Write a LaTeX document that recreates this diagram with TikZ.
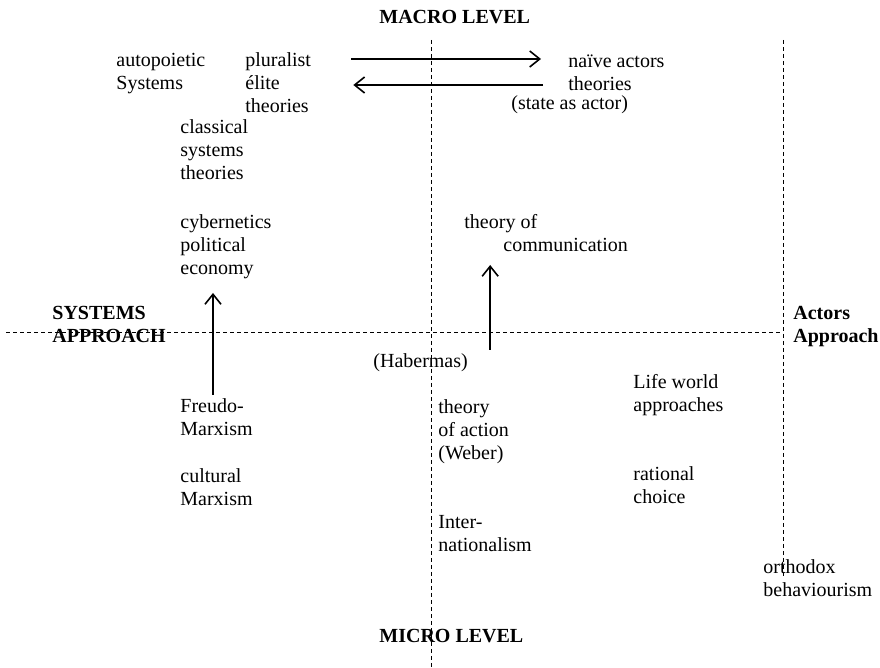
\documentclass[tikz,border=0pt]{standalone}
\usepackage{fontspec}
\setmainfont{Liberation Serif}
\usetikzlibrary{arrows.meta,positioning,calc}
\tikzset{lbl/.style={anchor=base west,align=left,inner sep=0pt,
  font=\fontsize{10}{11.5}\selectfont},
  axislbl/.style={lbl,font=\fontsize{10}{11.5}\selectfont\bfseries},
  axis/.style={dash pattern=on 2pt off 1.5pt,line width=0.5pt},
  arrow/.style={-{Straight Barb[length=5pt,width=8pt]},line width=0.8pt}}

\begin{document}
\begin{tikzpicture}[x=0.5pt,y=-0.5pt]
\useasboundingbox (0,0) rectangle (880,668);
% axes
\coordinate (vtop) at (431,40);\coordinate (vbot) at (431,668);
\coordinate (rtop) at (783,40);\coordinate (rbot) at (783,578);
\coordinate (hleft) at (6,333);
\draw[axis] (vtop)--(vbot);
\draw[axis] (rtop)--(rbot);
\draw[axis] (hleft)--(hleft -| rtop);
% (nodes sit on the baseline of their last line)
\node[axislbl] (macro) at (379,24) {MACRO LEVEL};
\node[axislbl] (micro) at (379,643) {MICRO LEVEL};
\node[axislbl] (sys) at (52,343) {SYSTEMS\\APPROACH};
\node[axislbl] (act) at (793,343) {Actors\\Approach};
% systems side
\node[lbl] (autop) at (116,90) {autopoietic\\Systems};
\node[lbl] (plur) at (245,113) {pluralist\\élite\\theories};
\node[lbl] (class) at (180,180) {classical\\systems\\theories};
\node[lbl] (cyber) at (180,275) {cybernetics\\political\\economy};
\node[lbl] (freudo) at (180,436) {Freudo-\\Marxism};
\node[lbl] (cult) at (180,506) {cultural\\Marxism};
% middle
\node[lbl] (commu) at (464,252) {theory of\\\hspace*{19.5pt}communication};
\node[lbl] (haber) at (373,368) {(Habermas)};
\node[lbl] (weber) at (438,460) {theory\\of action\\(Weber)};
\node[lbl] (inter) at (438,552) {Inter-\\nationalism};
% actors side
\node[lbl] (naive) at (568,91) {naïve actors\\theories};
\node[lbl] (state) at (511,110) {(state as actor)};
\node[lbl] (life) at (633,412) {Life world\\approaches};
\node[lbl] (ratio) at (633,504) {rational\\choice};
\node[lbl] (ortho) at (763,597) {orthodox\\behaviourism};
% arrows
\coordinate (plurout) at ([shift={(20pt,27pt)}]plur.base east);
\coordinate (naivein) at ([xshift=-13.5pt]naive.west);
\draw[arrow] (plurout)--(plurout -| naivein);
\coordinate (naiveout) at ([shift={(-12.5pt,3pt)}]naive.base west);
\coordinate (plurin) at ([xshift=21pt]plur.east);
\draw[arrow] (naiveout)--(naiveout -| plurin);
\coordinate (cybtip) at ([yshift=-9pt]cyber.base west);
\coordinate (freufoot) at ([shift={(16.5pt,20.5pt)}]freudo.base west);
\draw[arrow] (freufoot)--(freufoot |- cybtip);
\coordinate (commtip) at ([yshift=-6.5pt]commu.base west);
\coordinate (haberfoot) at ([shift={(11pt,9pt)}]haber.base east);
\draw[arrow] (haberfoot)--(haberfoot |- commtip);
\end{tikzpicture}
\end{document}
